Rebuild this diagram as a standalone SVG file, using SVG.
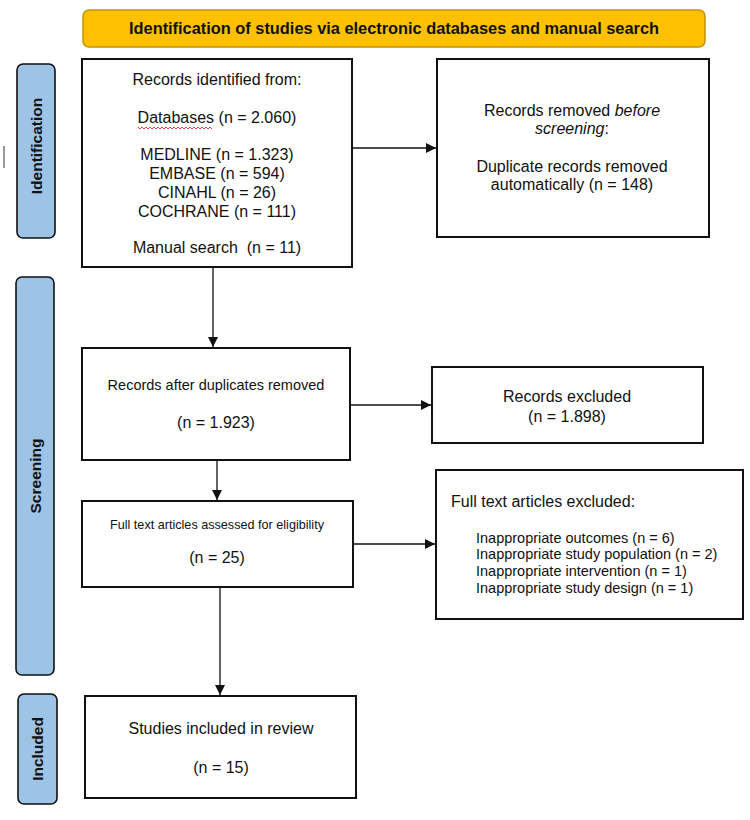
<svg xmlns="http://www.w3.org/2000/svg" width="750" height="820" viewBox="0 0 750 820">
<style>
text{font-family:"Liberation Sans",Arial,sans-serif;fill:#111}
.box{fill:#fff;stroke:#111;stroke-width:2}
.side{fill:#9DC3E6;stroke:#111;stroke-width:1.6}
.st{font-weight:bold;font-size:15.5px}
.t16{font-size:16px}
.c{text-anchor:middle}
.con{stroke:#111;stroke-width:1.3;fill:none;marker-end:url(#ah)}
</style>
<defs>
<marker id="ah" viewBox="0 0 10 10" refX="10" refY="5" markerWidth="10" markerHeight="10" markerUnits="userSpaceOnUse" orient="auto">
<path d="M0,0 L10,5 L0,10 z" fill="#111"/>
</marker>
</defs>
<rect width="750" height="820" fill="#fff"/>

<g id="header">
<rect x="83" y="10" width="622" height="37" rx="6" fill="#FFC000" stroke="#C29400" stroke-width="1.5"/>
<text x="394" y="34" class="c" font-weight="bold" font-size="16" textLength="530" lengthAdjust="spacingAndGlyphs">Identification of studies via electronic databases and manual search</text>
</g>

<g id="side-identification">
<rect x="17" y="64" width="38" height="174" rx="6" class="side"/>
<text transform="translate(42,146) rotate(-90)" class="st c">Identification</text>
</g>
<line x1="4" y1="146" x2="4" y2="168" stroke="#333" stroke-width="1"/>

<g id="side-screening">
<rect x="16" y="277" width="38" height="398" rx="6" class="side"/>
<text transform="translate(41,476) rotate(-90)" class="st c">Screening</text>
</g>

<g id="side-included">
<rect x="18" y="694" width="39" height="110" rx="6" class="side"/>
<text transform="translate(43,749) rotate(-90)" class="st c">Included</text>
</g>

<g id="records-identified">
<rect x="82" y="59" width="270" height="208" class="box"/>
<text class="t16 c" x="217" y="85">Records identified from:</text>
<text class="t16 c" x="217" y="123">Databases (n = 2.060)</text>
<path d="M138,127 l2,2 l2,-2 l2,2 l2,-2 l2,2 l2,-2 l2,2 l2,-2 l2,2 l2,-2 l2,2 l2,-2 l2,2 l2,-2 l2,2 l2,-2 l2,2 l2,-2 l2,2 l2,-2 l2,2 l2,-2 l2,2 l2,-2 l2,2 l2,-2 l2,2 l2,-2 l2,2 l2,-2 l2,2 l2,-2 l2,2 l2,-2 l2,2 l2,-2 l2,2" fill="none" stroke="#d33" stroke-width="0.9"/>
<text class="t16 c" x="217" y="160">MEDLINE (n = 1.323)</text>
<text class="t16 c" x="217" y="179">EMBASE (n = 594)</text>
<text class="t16 c" x="217" y="198">CINAHL (n = 26)</text>
<text class="t16 c" x="217" y="217">COCHRANE (n = 111)</text>
<text class="t16 c" x="217" y="253" xml:space="preserve">Manual search  (n = 11)</text>
</g>

<g id="removed-before">
<rect x="437" y="59" width="272" height="178" class="box"/>
<text class="t16 c" x="572" y="116">Records removed <tspan font-style="italic">before</tspan></text>
<text class="t16 c" x="572" y="134"><tspan font-style="italic">screening</tspan>:</text>
<text class="t16 c" x="572" y="172">Duplicate records removed</text>
<text class="t16 c" x="572" y="190">automatically (n = 148)</text>
</g>

<g id="after-duplicates">
<rect x="82" y="348" width="268" height="112" class="box"/>
<text class="c" font-size="14.5" x="216" y="390">Records after duplicates removed</text>
<text class="t16 c" x="216" y="428">(n = 1.923)</text>
</g>

<g id="records-excluded">
<rect x="432" y="367" width="271" height="76" class="box"/>
<text class="t16 c" x="567" y="402">Records excluded</text>
<text class="t16 c" x="567" y="422">(n = 1.898)</text>
</g>

<g id="full-text-assessed">
<rect x="82" y="501" width="271" height="86" class="box"/>
<text class="c" font-size="13" x="217" y="529" textLength="214" lengthAdjust="spacingAndGlyphs">Full text articles assessed for eligibility</text>
<text class="t16 c" x="217" y="563">(n = 25)</text>
</g>

<g id="full-text-excluded">
<rect x="436" y="470" width="307" height="149" class="box"/>
<text class="t16" x="451" y="507">Full text articles excluded:</text>
<text font-size="14.5" x="476" y="543">Inappropriate outcomes (n = 6)</text>
<text font-size="14.5" x="476" y="559">Inappropriate study population (n = 2)</text>
<text font-size="14.5" x="476" y="576">Inappropriate intervention (n = 1)</text>
<text font-size="14.5" x="476" y="593">Inappropriate study design (n = 1)</text>
</g>

<g id="included-studies">
<rect x="85" y="696" width="271" height="102" class="box"/>
<text class="t16 c" x="221" y="734">Studies included in review</text>
<text class="t16 c" x="221" y="773">(n = 15)</text>
</g>

<g id="connectors">
<line x1="353" y1="148" x2="436" y2="148" class="con"/>
<line x1="213" y1="268" x2="213" y2="347" class="con"/>
<line x1="351" y1="405" x2="431" y2="405" class="con"/>
<line x1="217" y1="461" x2="217" y2="500" class="con"/>
<line x1="354" y1="544" x2="435" y2="544" class="con"/>
<line x1="220" y1="588" x2="220" y2="695" class="con"/>
</g>
</svg>
